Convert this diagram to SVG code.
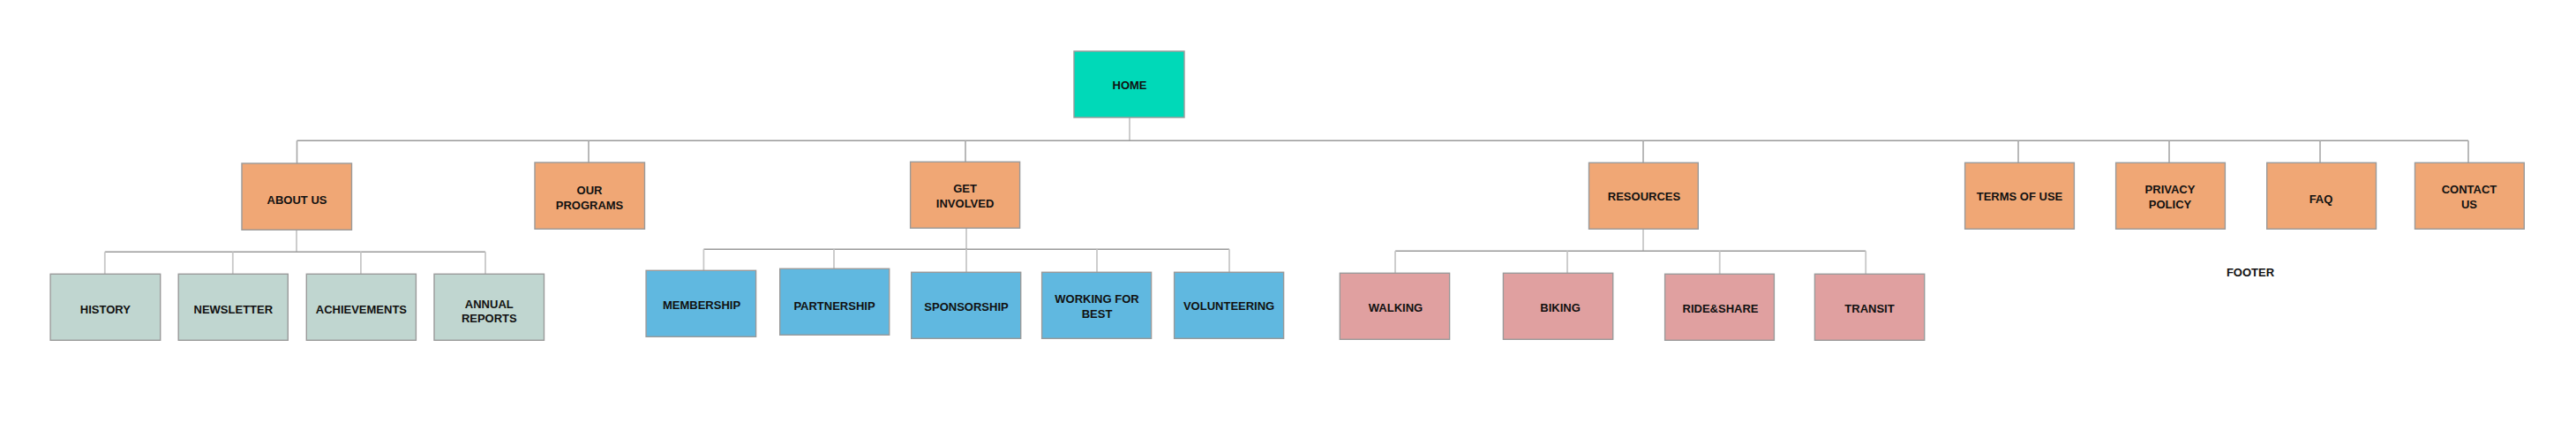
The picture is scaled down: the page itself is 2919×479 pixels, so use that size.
<svg xmlns="http://www.w3.org/2000/svg" width="2919" height="479" viewBox="0 0 2919 479">
<style>
.box{stroke:#9a9a9a;stroke-width:1.4}
.home{fill:#00d9b8}
.top{fill:#f0a775}
.about{fill:#c0d6d0}
.inv{fill:#60b8e0}
.res{fill:#e0a0a0}
text{font-family:"Liberation Sans",Arial,sans-serif;font-weight:bold;font-size:13px;fill:#111;text-anchor:middle}
.h{stroke:#9a9a9a;stroke-width:1.4;fill:none}
.v{stroke:#c8c8c8;stroke-width:1.8;fill:none}
.vt{stroke:#a8a8a8;stroke-width:1.6;fill:none}
</style>
<rect width="2919" height="479" fill="#ffffff"/>
<g id="connectors">
<line class="v" x1="1280" y1="133" x2="1280" y2="159.3"/>
<line class="h" x1="336.5" y1="159.3" x2="2797" y2="159.3"/>
<line class="vt" x1="336.5" y1="159.3" x2="336.5" y2="185"/>
<line class="vt" x1="667" y1="159.3" x2="667" y2="184"/>
<line class="vt" x1="1094" y1="159.3" x2="1094" y2="183.3"/>
<line class="vt" x1="1862" y1="159.3" x2="1862" y2="184.3"/>
<line class="vt" x1="2287" y1="159.3" x2="2287" y2="184.3"/>
<line class="vt" x1="2458" y1="159.3" x2="2458" y2="184.3"/>
<line class="vt" x1="2629" y1="159.3" x2="2629" y2="184.3"/>
<line class="vt" x1="2797" y1="159.3" x2="2797" y2="184.3"/>
<line class="v" x1="336" y1="260.3" x2="336" y2="285.3"/>
<line class="h" x1="118.8" y1="285.3" x2="550" y2="285.3"/>
<line class="v" x1="118.8" y1="285.3" x2="118.8" y2="310.3"/>
<line class="v" x1="263.8" y1="285.3" x2="263.8" y2="310.3"/>
<line class="v" x1="408.9" y1="285.3" x2="408.9" y2="310.3"/>
<line class="v" x1="550" y1="285.3" x2="550" y2="310.3"/>
<line class="v" x1="1095" y1="258.3" x2="1095" y2="282.3"/>
<line class="h" x1="797.4" y1="282.3" x2="1393" y2="282.3"/>
<line class="v" x1="797.4" y1="282.3" x2="797.4" y2="306.3"/>
<line class="v" x1="945" y1="282.3" x2="945" y2="304.3"/>
<line class="v" x1="1095" y1="282.3" x2="1095" y2="308.3"/>
<line class="v" x1="1243" y1="282.3" x2="1243" y2="308.3"/>
<line class="v" x1="1393" y1="282.3" x2="1393" y2="308.3"/>
<line class="v" x1="1862" y1="259.3" x2="1862" y2="284.3"/>
<line class="h" x1="1581" y1="284.3" x2="2114.2" y2="284.3"/>
<line class="v" x1="1581" y1="284.3" x2="1581" y2="309.3"/>
<line class="v" x1="1776" y1="284.3" x2="1776" y2="309.3"/>
<line class="v" x1="1948.7" y1="284.3" x2="1948.7" y2="310.3"/>
<line class="v" x1="2114.2" y1="284.3" x2="2114.2" y2="310.3"/>
</g>
<g id="home"><rect class="box home" x="1217" y="58" width="125" height="75"/><text x="1280" y="101.3">HOME</text></g>
<g id="about-us"><rect class="box top" x="274" y="185" width="124.5" height="75.3"/><text x="336.5" y="231.3">ABOUT US</text></g>
<g id="our-programs"><rect class="box top" x="606" y="184" width="124.5" height="75.3"/><text x="668" y="219.7">OUR</text><text x="668" y="237">PROGRAMS</text></g>
<g id="get-involved"><rect class="box top" x="1031.6" y="183.3" width="124" height="75"/><text x="1093.6" y="218">GET</text><text x="1093.6" y="235.3">INVOLVED</text></g>
<g id="resources"><rect class="box top" x="1800.5" y="184.3" width="123.8" height="75"/><text x="1863" y="227">RESOURCES</text></g>
<g id="terms-of-use"><rect class="box top" x="2226.6" y="184.3" width="123.8" height="75"/><text x="2288.5" y="227">TERMS OF USE</text></g>
<g id="privacy-policy"><rect class="box top" x="2397.6" y="184.3" width="123.8" height="75"/><text x="2459" y="219">PRIVACY</text><text x="2459" y="236">POLICY</text></g>
<g id="faq"><rect class="box top" x="2568.7" y="184.3" width="123.8" height="75"/><text x="2630" y="230.3">FAQ</text></g>
<g id="contact-us"><rect class="box top" x="2736.5" y="184.3" width="123.8" height="75"/><text x="2798" y="219">CONTACT</text><text x="2798" y="236">US</text></g>
<g id="footer"><text x="2550" y="312.7">FOOTER</text></g>
<g id="history"><rect class="box about" x="57.1" y="310.3" width="124.6" height="75"/><text x="119.4" y="354.6">HISTORY</text></g>
<g id="newsletter"><rect class="box about" x="202.2" y="310.3" width="124.1" height="75"/><text x="264.3" y="354.6">NEWSLETTER</text></g>
<g id="achievements"><rect class="box about" x="347.3" y="310.3" width="124.1" height="75"/><text x="409.4" y="354.6">ACHIEVEMENTS</text></g>
<g id="annual-reports"><rect class="box about" x="492" y="310.3" width="124.5" height="75"/><text x="554.3" y="348.7">ANNUAL</text><text x="554.3" y="365.3">REPORTS</text></g>
<g id="membership"><rect class="box inv" x="732.1" y="306.3" width="124.5" height="75"/><text x="795" y="349.7">MEMBERSHIP</text></g>
<g id="partnership"><rect class="box inv" x="883.7" y="304.3" width="124" height="75"/><text x="945.5" y="350.7">PARTNERSHIP</text></g>
<g id="sponsorship"><rect class="box inv" x="1032.7" y="308.3" width="124" height="75"/><text x="1095" y="352">SPONSORSHIP</text></g>
<g id="working-for-best"><rect class="box inv" x="1180.6" y="308.3" width="124" height="75"/><text x="1243" y="343.3">WORKING FOR</text><text x="1243" y="360">BEST</text></g>
<g id="volunteering"><rect class="box inv" x="1330.6" y="308.3" width="124" height="75"/><text x="1392.6" y="351.3">VOLUNTEERING</text></g>
<g id="walking"><rect class="box res" x="1518.3" y="309.3" width="124.3" height="75"/><text x="1581.5" y="353">WALKING</text></g>
<g id="biking"><rect class="box res" x="1703.4" y="309.3" width="124.3" height="75"/><text x="1768" y="353">BIKING</text></g>
<g id="ride-share"><rect class="box res" x="1886.6" y="310.3" width="123.8" height="75"/><text x="1949.5" y="354">RIDE&amp;SHARE</text></g>
<g id="transit"><rect class="box res" x="2056.4" y="310.3" width="124.3" height="75"/><text x="2118.5" y="354">TRANSIT</text></g>
</svg>
